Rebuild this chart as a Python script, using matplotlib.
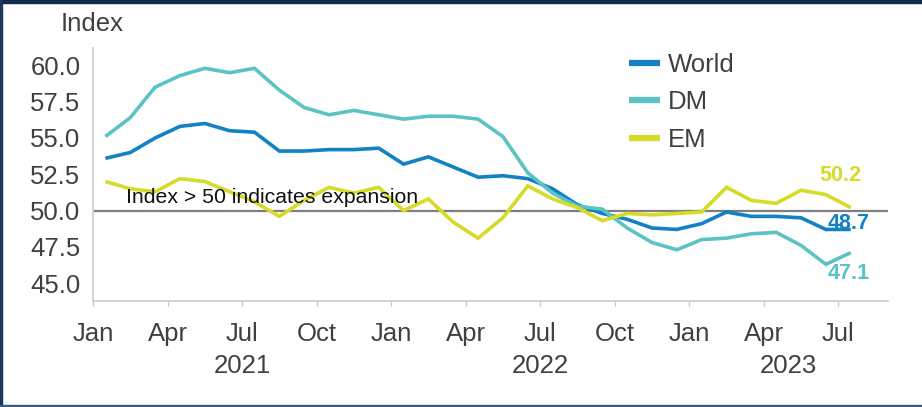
import matplotlib
matplotlib.use("Agg")
import matplotlib.pyplot as plt
from matplotlib.patches import Rectangle
import numpy as np

plt.rcParams['font.family'] = ['Liberation Sans', 'DejaVu Sans']

# Monthly PMI, Jan 2021 .. Jul 2023
world = [53.6, 54.0, 55.0, 55.8, 56.0, 55.5, 55.4, 54.1, 54.1, 54.2, 54.2, 54.3,
         53.2, 53.7, 53.0, 52.3, 52.4, 52.2, 51.5, 50.4, 49.8, 49.4, 48.8, 48.7,
         49.1, 49.9, 49.6, 49.6, 49.5, 48.7, 48.7]
dm = [55.1, 56.4, 58.5, 59.3, 59.8, 59.5, 59.8, 58.3, 57.1, 56.6, 56.9, 56.6,
      56.3, 56.5, 56.5, 56.3, 55.1, 52.6, 51.2, 50.3, 50.1, 48.8, 47.8, 47.3,
      48.0, 48.1, 48.4, 48.5, 47.6, 46.3, 47.1]
em = [52.0, 51.5, 51.3, 52.2, 52.0, 51.3, 50.6, 49.6, 50.7, 51.6, 51.2, 51.6,
      50.0, 50.8, 49.2, 48.1, 49.5, 51.7, 50.8, 50.2, 49.3, 49.8, 49.7, 49.8,
      49.9, 51.6, 50.7, 50.5, 51.4, 51.1, 50.2]
series_names = ["World", "DM", "EM"]
series_colors = ["#1282C4", "#5BC3C3", "#D5DB27"]
last_labels = ["48.7", "47.1", "50.2"]
month_labels = ["Jan", "Apr", "Jul", "Oct", "Jan", "Apr", "Jul", "Oct", "Jan", "Apr", "Jul"]
years = ["2021", "2022", "2023"]
yticks = [45.0, 47.5, 50.0, 52.5, 55.0, 57.5, 60.0]

W, H = 922, 407
fig = plt.figure(figsize=(W / 100, H / 100), dpi=100)
ax = fig.add_axes([93 / W, 1 - 301 / H, (888 - 93) / W, (301 - 48) / H])

x = np.arange(len(world)) + 0.5
text_col = "#404040"
for vals, name, col in zip([world, dm, em], series_names, series_colors):
    ax.plot(x, vals, color=col, lw=2.6, label=name, solid_joinstyle='miter', solid_capstyle='butt')

ax.axhline(50, color="#7F7F7F", lw=1.6, zorder=1)

ax.set_xlim(0, 32)
ax.set_ylim(43.77, 61.2)
ax.set_yticks(yticks)
ax.set_yticklabels([f"{v:.1f}" for v in yticks])
ax.tick_params(axis='y', length=0, pad=9.0, labelsize=18.5, labelcolor=text_col)

qt = np.arange(0, 31, 3)
ax.set_xticks(qt)
ax.set_xticklabels(month_labels)
ax.tick_params(axis='x', which='major', length=3.5, width=1, color="#C8C8C8",
               pad=11.5, labelsize=18.5, labelcolor=text_col)
ax.set_xticks([0, 12, 24], minor=True)
ax.tick_params(axis='x', which='minor', length=7, width=1.2, color="#C8C8C8")

for s in ['top', 'right']:
    ax.spines[s].set_visible(False)
for s in ['left', 'bottom']:
    ax.spines[s].set_color("#D0D0D0")
    ax.spines[s].set_linewidth(1.3)

# Year labels
trans = matplotlib.transforms.blended_transform_factory(ax.transData, fig.transFigure)
for yr, xc in zip(years, [6, 18, 28]):
    ax.text(xc, 1 - 373 / H, yr, transform=trans, ha='center', va='baseline',
            fontsize=18.5, color=text_col)

# Axis title
fig.text(92 / W, 1 - 31 / H, "Index", ha='center', va='baseline', fontsize=18.5, color=text_col)

# Annotation
ax.text(1.31, 50.5, "Index > 50 indicates expansion", fontsize=15.3, color="#111111",
        ha='left', va='baseline')

# End labels
ax.text(30.4, 48.73, last_labels[0], color=series_colors[0], fontsize=15.5,
        fontweight='bold', ha='center', va='baseline')
ax.text(30.4, 45.28, last_labels[1], color=series_colors[1], fontsize=15.5,
        fontweight='bold', ha='center', va='baseline')
ax.text(30.08, 52.05, last_labels[2], color=series_colors[2], fontsize=15.5,
        fontweight='bold', ha='center', va='baseline')

leg = ax.legend(loc='upper left', bbox_to_anchor=(629 / W, 1 - 53 / H),
                bbox_transform=fig.transFigure, frameon=False, fontsize=18.5,
                handlelength=1.2, handletextpad=0.3, labelspacing=0.52,
                borderpad=0, borderaxespad=0)
for t in leg.get_texts():
    t.set_color(text_col)
for h in leg.get_lines():
    h.set_linewidth(4.5)

# Frame border
fig.patches.append(Rectangle((0, 1 - 3 / H), 1, 3 / H, transform=fig.transFigure,
                             color="#0E2B4E", zorder=10))
fig.patches.append(Rectangle((0, 0), 2 / W, 1, transform=fig.transFigure,
                             color="#1A3658", zorder=10))
fig.patches.append(Rectangle((0, 0.5 / H), 1, 1.8 / H, transform=fig.transFigure,
                             color="#3B5A7E", zorder=10))

fig.savefig("out.png", dpi=100)
